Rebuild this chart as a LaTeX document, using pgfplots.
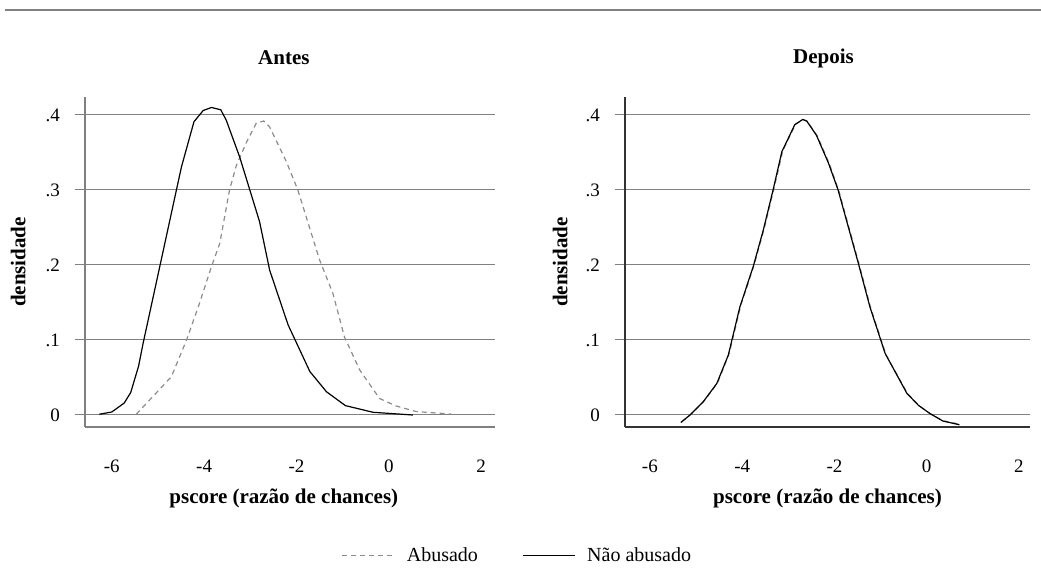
\documentclass[border=0pt]{standalone}
\usepackage{pgfplots}
\pgfplotsset{compat=1.18}
\usepackage{fontspec}
\setmainfont{Liberation Serif}
\definecolor{gridc}{gray}{0.5}
\definecolor{dashc}{gray}{0.55}
\pgfplotstableread{
x y
-6.27 0.001
-6.00 0.004
-5.73 0.016
-5.59 0.030
-5.42 0.065
-5.32 0.096
-4.96 0.198
-4.60 0.300
-4.49 0.331
-4.22 0.391
-4.02 0.406
-3.84 0.410
-3.64 0.407
-3.52 0.393
-3.23 0.344
-2.80 0.258
-2.58 0.193
-2.18 0.120
-1.71 0.058
-1.35 0.031
-0.94 0.0125
-0.34 0.0036
0.52 0.0
}\antesNao
\pgfplotstableread{
x y
-5.47 0.001
-5.18 0.020
-4.71 0.051
-4.38 0.100
-4.10 0.149
-3.84 0.198
-3.66 0.229
-3.45 0.300
-3.30 0.333
-3.08 0.364
-2.87 0.389
-2.71 0.392
-2.58 0.384
-2.22 0.338
-1.97 0.300
-1.50 0.207
-1.21 0.162
-0.96 0.104
-0.63 0.060
-0.20 0.022
0.16 0.012
0.60 0.0045
1.35 0.0013
}\antesAb
\pgfplotstableread{
x y
-5.33 -0.010
-5.13 0.000
-4.84 0.018
-4.55 0.042
-4.30 0.080
-4.05 0.144
-3.76 0.198
-3.54 0.247
-3.33 0.300
-3.14 0.351
-2.86 0.387
-2.69 0.394
-2.60 0.392
-2.39 0.373
-2.13 0.336
-1.92 0.300
-1.48 0.202
-1.23 0.144
-0.90 0.082
-0.43 0.029
-0.18 0.013
0.07 0.002
0.35 -0.008
0.71 -0.013
}\depoisNao
\pgfplotstableread{
x y
-5.31 -0.009
-5.11 0.001
-4.82 0.019
-4.53 0.043
-4.28 0.082
-4.03 0.146
-3.74 0.200
-3.52 0.249
-3.31 0.302
-3.12 0.352
-2.84 0.388
-2.67 0.394
-2.58 0.391
-2.37 0.372
-2.11 0.335
-1.90 0.298
-1.46 0.200
-1.21 0.142
-0.88 0.080
-0.41 0.028
-0.16 0.012
0.09 0.001
0.37 -0.008
0.70 -0.012
}\depoisAb
\newcommand{\labfont}{\bfseries\fontsize{10.5pt}{12pt}\selectfont}
\pgfplotsset{
  panel/.style={
    scale only axis,
    width=205pt, height=165pt,
    ymin=-0.016, ymax=0.424,
    axis lines=left,
    axis line style={-, line width=0.6pt},
    ytick={0,0.1,0.2,0.3,0.4},
    yticklabels={0,.1,.2,.3,.4},
    xtick={-6,-4,-2,0,2},
    xticklabels={-6,-4,-2,0,2},
    tick align=outside,
    ytick style={draw=gridc, line width=0.5pt},
    major tick length=5pt,
    xtick style={draw=none},
    ymajorgrids,
    grid style={gridc, line width=0.5pt},
    tick label style={font=\fontsize{9.5pt}{11pt}\selectfont},
    yticklabel style={xshift=-4pt},
    xticklabel style={yshift=-8pt},
    clip=false,
  },
  abus/.style={dashc, line width=0.6pt, dash pattern=on 2.5pt off 2pt},
  nao/.style={black, line width=0.6pt},
}
\begin{document}
\begin{tikzpicture}
\useasboundingbox (0,0) rectangle (520.5pt,284pt);
\draw[gray, line width=1pt] (2.5pt,279pt) -- (520.5pt,279pt);
\begin{axis}[panel,
  at={(42.5pt,70.5pt)}, anchor=south west,
  xmin=-6.58, xmax=2.3,
  axis line style={gridc},
  title={Antes},
  every axis title/.style={at={(axis description cs:0.485,1.118)}, anchor=center, font=\labfont},
  ylabel={densidade},
  every axis y label/.style={at={(axis description cs:-0.163,0.5)}, rotate=90, anchor=center, font=\labfont},
  xlabel={pscore (razão de chances)},
  every axis x label/.style={at={(axis description cs:0.485,-0.215)}, anchor=center, font=\labfont},
  legend columns=2,
  legend style={at={(axis description cs:1.057,-0.39)}, anchor=center, draw=none, fill=none,
    font=\fontsize{10pt}{12pt}\selectfont,
    /tikz/every odd column/.append style={column sep=4pt},
    /tikz/every even column/.append style={column sep=20pt}},
  legend image code/.code={\draw[#1] (0pt,0pt) -- (26pt,0pt);},
]
\addplot[abus] table {\antesAb};
\addlegendentry{Abusado}
\addplot[nao] table {\antesNao};
\addlegendentry{Não abusado}
\end{axis}
\begin{axis}[panel,
  at={(312.5pt,70.5pt)}, anchor=south west,
  width=202.5pt,
  xmin=-6.54, xmax=2.24,
  axis line style={black!80},
  title={Depois},
  every axis title/.style={at={(axis description cs:0.49,1.118)}, anchor=center, font=\labfont},
  ylabel={densidade},
  every axis y label/.style={at={(axis description cs:-0.16,0.5)}, rotate=90, anchor=center, font=\labfont},
  xlabel={pscore (razão de chances)},
  every axis x label/.style={at={(axis description cs:0.5,-0.215)}, anchor=center, font=\labfont},
]
\addplot[abus] table {\depoisAb};
\addplot[nao] table {\depoisNao};
\end{axis}
\end{tikzpicture}
\end{document}
